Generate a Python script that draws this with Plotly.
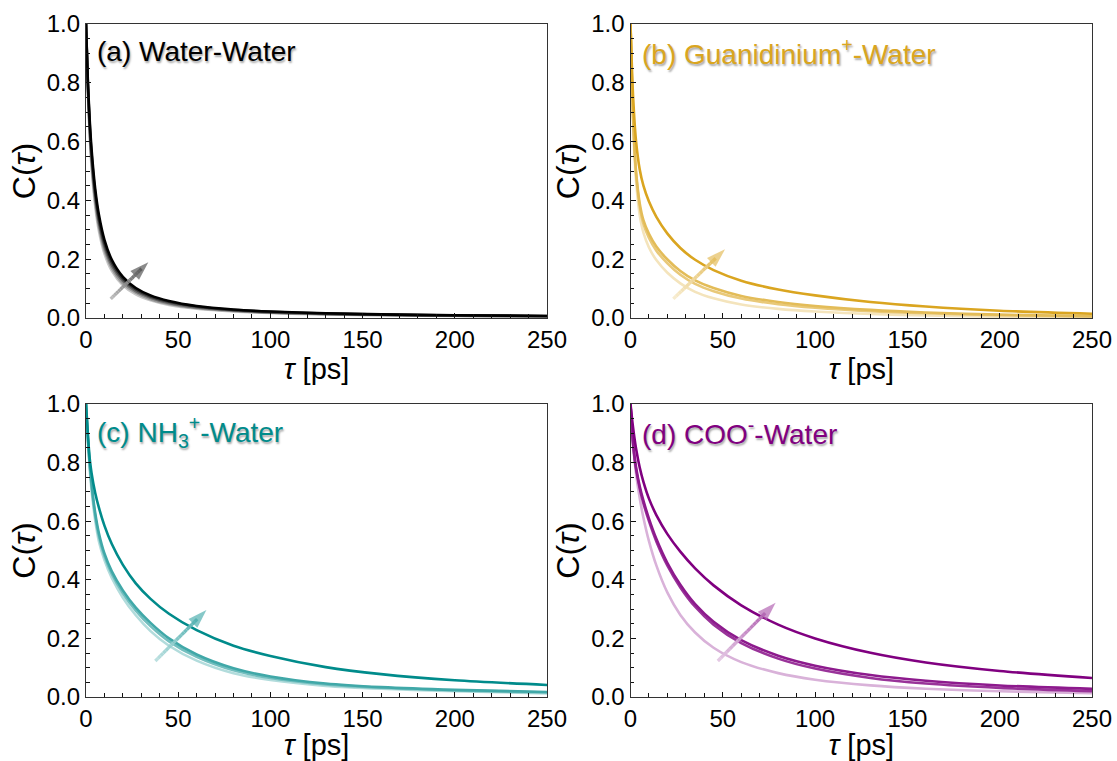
import plotly.graph_objects as go

# Lag times (ps) at which the correlation functions are sampled
TAU = [0, 1, 2, 3, 5, 7, 10, 14, 20, 27, 35, 45, 60, 80, 100, 130, 160, 200, 250]

# (a) Water-Water, lightest -> darkest
WW_1 = [1.0, .771, .621, .516, .380, .296, .219, .160, .111, .080, .060, .0445, .0316, .0222, .0169, .0121, .0093, .0070, .0053]
WW_2 = [1.0, .781, .634, .531, .395, .310, .231, .170, .118, .086, .064, .048, .034, .024, .018, .013, .0101, .0076, .0057]
WW_3 = [1.0, .790, .648, .546, .410, .324, .243, .179, .126, .091, .069, .051, .036, .026, .019, .014, .0109, .0082, .0062]
WW_4 = [1.0, .800, .661, .560, .424, .337, .254, .189, .133, .097, .073, .055, .039, .027, .021, .015, .0116, .0087, .0066]
WW_5 = [1.0, .809, .674, .575, .439, .351, .266, .198, .140, .102, .077, .058, .041, .029, .022, .016, .0124, .0093, .0070]

# (b) Guanidinium+-Water
GU_1 = [1.0, .738, .572, .466, .349, .290, .240, .197, .154, .118, .089, .067, .046, .031, .022, .0135, .0085, .0046, .0021]
GU_2 = [1.0, .750, .592, .490, .378, .320, .272, .229, .186, .147, .116, .091, .066, .047, .035, .023, .016, .0094, .0050]
GU_3 = [1.0, .755, .600, .500, .390, .333, .286, .243, .199, .160, .128, .102, .075, .0545, .041, .0276, .0189, .0115, .0062]
GU_4 = [1.0, .808, .685, .602, .505, .450, .396, .344, .287, .238, .198, .163, .127, .097, .077, .0543, .0389, .0249, .0143]

# (c) NH3+-Water
NH_1 = [1.0, .875, .778, .707, .602, .531, .467, .406, .339, .279, .225, .175, .124, .081, .058, .038, .028, .020, .0125]
NH_2 = [1.0, .883, .791, .721, .617, .548, .481, .420, .354, .295, .242, .190, .137, .091, .065, .043, .0314, .0225, .0154]
NH_3 = [1.0, .888, .799, .730, .628, .559, .490, .429, .364, .305, .253, .200, .145, .098, .070, .046, .0336, .0242, .0173]
NH_4 = [1.0, .900, .814, .765, .696, .646, .585, .522, .451, .388, .335, .284, .228, .175, .140, .102, .078, .057, .041]

# (d) COO--Water
CO_1 = [1.0, .894, .820, .762, .678, .612, .532, .449, .356, .280, .220, .168, .119, .0815, .059, .0396, .0283, .0195, .0133]
CO_2 = [1.0, .893, .825, .777, .711, .661, .600, .531, .448, .374, .308, .247, .184, .131, .097, .065, .046, .031, .020]
CO_3 = [1.0, .897, .831, .784, .719, .670, .609, .540, .457, .383, .317, .257, .194, .141, .107, .075, .0556, .0395, .0276]
CO_4 = [1.0, .940, .890, .848, .783, .734, .677, .621, .556, .496, .439, .381, .313, .247, .200, .151, .118, .089, .065]

FONT = "Liberation Sans, Arial, Helvetica, sans-serif"
W, H = 1117, 761

X_LEFT = [86 / W, 547 / W]
X_RIGHT = [630.5 / W, 1092 / W]
Y_TOP = [1 - 318 / H, 1 - 24 / H]
Y_BOT = [1 - 697 / H, 1 - 404 / H]


def blend(rgb, alpha):
    r, g, b = (round(255 - (255 - c) * alpha) for c in rgb)
    return f"rgb({r},{g},{b})"


def mix(c1, c2, f):
    return tuple(a + (b - a) * f for a, b in zip(c1, c2))


def faded(rgb, alpha):
    return tuple(255 - (255 - c) * alpha for c in rgb)


def css(c):
    return "rgb(%d,%d,%d)" % tuple(round(v) for v in c)


panels = [
    dict(ax="", xd=X_LEFT, yd=Y_TOP, base=(0, 0, 0), alphas=[0.22, 0.4, 0.6, 0.8, 1.0],
         series=[WW_1, WW_2, WW_3, WW_4, WW_5],
         label="(a) Water-Water", arrow=((13.4, 0.065), (33.8, 0.19)), arr_a=(0.25, 0.65)),
    dict(ax="2", xd=X_RIGHT, yd=Y_TOP, base=(218, 165, 32), alphas=[0.3, 0.6, 0.75, 1.0],
         series=[GU_1, GU_2, GU_3, GU_4],
         label="(b) Guanidinium<sup>+</sup>-Water", arrow=((23.2, 0.065), (51.2, 0.234)), arr_a=(0.2, 0.72)),
    dict(ax="3", xd=X_LEFT, yd=Y_BOT, base=(0, 139, 139), alphas=[0.3, 0.55, 0.75, 1.0],
         series=[NH_1, NH_2, NH_3, NH_4],
         label="(c) NH<sub>3</sub><sup>+</sup>-Water", arrow=((37.6, 0.123), (65.3, 0.297)), arr_a=(0.25, 0.68)),
    dict(ax="4", xd=X_RIGHT, yd=Y_BOT, base=(128, 0, 128), alphas=[0.3, 0.8, 0.9, 1.0],
         series=[CO_1, CO_2, CO_3, CO_4],
         label="(d) COO<sup>-</sup>-Water", arrow=((47.3, 0.123), (78.6, 0.322)), arr_a=(0.2, 0.6)),
]

fig = go.Figure()
shapes = []
annotations = []

for p in panels:
    xa, ya = "x" + p["ax"], "y" + p["ax"]
    for vals, a in zip(p["series"], p["alphas"]):
        fig.add_trace(go.Scatter(
            x=TAU, y=vals, mode="lines", xaxis=xa, yaxis=ya,
            line=dict(color=blend(p["base"], a), width=2.6, shape="spline", smoothing=0.8),
            showlegend=False, hoverinfo="skip",
        ))

    # gradient arrow: short segments fading from light to dark, then a head
    (x0, y0), (x1, y1) = p["arrow"]
    c_lo = faded(p["base"], p["arr_a"][0])
    c_hi = faded(p["base"], p["arr_a"][1])
    n, stop = 16, 0.82
    for k in range(n):
        f0, f1 = stop * k / n, stop * (k + 1) / n
        shapes.append(dict(
            type="line", xref=xa, yref=ya,
            x0=x0 + (x1 - x0) * f0, y0=y0 + (y1 - y0) * f0,
            x1=x0 + (x1 - x0) * f1, y1=y0 + (y1 - y0) * f1,
            line=dict(color=css(mix(c_lo, c_hi, (f0 + f1) / 2 / stop)), width=3.4),
            layer="above",
        ))
    fig.add_trace(go.Scatter(
        x=[x0 + (x1 - x0) * 0.7, x1], y=[y0 + (y1 - y0) * 0.7, y1],
        mode="markers", xaxis=xa, yaxis=ya,
        marker=dict(symbol="arrow", angleref="previous", size=[0, 20],
                    color=css(c_hi), line=dict(width=0)),
        showlegend=False, hoverinfo="skip",
    ))

    # panel label
    annotations.append(dict(
        x=0.02, y=0.905, xref=xa + " domain", yref=ya + " domain",
        xanchor="left", yanchor="middle", showarrow=False,
        text=p["label"],
        font=dict(family=FONT, size=28, color=css(p["base"]),
                  shadow="1px 2px 2px rgba(0,0,0,0.35)"),
    ))

axis_common = dict(
    showline=True, linecolor="#333333", linewidth=1.3, mirror=True,
    showgrid=False, zeroline=False,
    ticks="inside", ticklen=5, tickwidth=1.2, tickcolor="#111111",
    tickfont=dict(family=FONT, size=24, color="black"),
)

layout = dict(
    width=W, height=H, margin=dict(l=0, r=0, t=0, b=0),
    paper_bgcolor="white", plot_bgcolor="white",
    shapes=shapes, annotations=annotations,
)

for p in panels:
    xa, ya = "x" + p["ax"], "y" + p["ax"]
    layout["xaxis" + p["ax"]] = dict(
        axis_common, domain=p["xd"], anchor=ya, range=[0, 250], dtick=50,
        minor=dict(dtick=10, ticks="inside", ticklen=3.5, tickcolor="#111111", tickwidth=1.2),
        title=dict(text="<i>τ</i> [ps]", font=dict(family=FONT, size=29, color="black"), standoff=6),
        automargin=False,
    )
    layout["yaxis" + p["ax"]] = dict(
        axis_common, domain=p["yd"], anchor=xa, range=[0, 1], dtick=0.2, tickformat=".1f",
        minor=dict(dtick=0.05, ticks="inside", ticklen=3.5, tickcolor="#111111", tickwidth=1.2),
        title=dict(text="C(<i>τ</i>)", font=dict(family=FONT, size=32, color="black"), standoff=1),
        automargin=False,
    )

fig.update_layout(**layout)
fig.write_html("out.html")
